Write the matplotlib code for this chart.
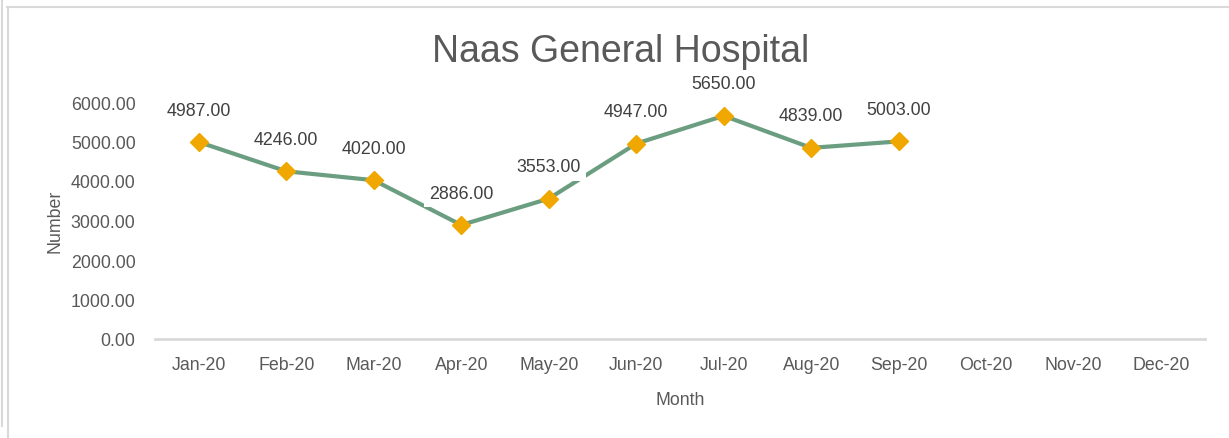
import matplotlib
matplotlib.use("Agg")
import matplotlib.pyplot as plt
from matplotlib.lines import Line2D

months = ["Jan-20", "Feb-20", "Mar-20", "Apr-20", "May-20", "Jun-20",
          "Jul-20", "Aug-20", "Sep-20", "Oct-20", "Nov-20", "Dec-20"]
values = [4987, 4246, 4020, 2886, 3553, 4947, 5650, 4839, 5003]
yticks = [0, 1000, 2000, 3000, 4000, 5000, 6000]

plt.rcParams['font.family'] = ['Liberation Sans', 'DejaVu Sans']

W, H = 1229, 439
fig = plt.figure(figsize=(W / 100, H / 100), dpi=100)
ax = fig.add_axes([155 / W, 1 - 340 / H, (1205 - 155) / W, (340 - 103) / H])

line_c = '#6b9e80'
mark_c = '#f0a800'
tick_c = '#595959'
lab_c = '#404040'
fs = 12.8

x = list(range(len(values)))
ax.plot(x, values, color=line_c, lw=3, marker='D', ms=9,
        mfc=mark_c, mec=mark_c, zorder=3, solid_capstyle='round')
for xi, v in zip(x, values):
    ax.annotate(f"{v:.2f}", (xi, v), xytext=(0, 23), textcoords='offset points',
                ha='center', va='center', fontsize=fs, color=lab_c, zorder=5,
                bbox=dict(boxstyle='square,pad=0.3', fc='white', ec='none'))

ax.set_xlim(-0.5, len(months) - 0.5)
ax.set_ylim(0, 6000)
ax.set_xticks(range(len(months)))
ax.set_xticklabels(months)
ax.set_yticks(yticks)
ax.set_yticklabels([f"{t:.2f}" for t in yticks])
ax.tick_params(axis='both', length=0, labelsize=fs, colors=tick_c)
ax.tick_params(axis='x', pad=12)
ax.tick_params(axis='y', pad=14)
for s in ['top', 'right', 'left']:
    ax.spines[s].set_visible(False)
ax.spines['bottom'].set_color('#d9d9d9')
ax.spines['bottom'].set_linewidth(2)

fig.text(680 / W, 1 - 405 / H, "Month", ha='center', va='baseline',
         fontsize=fs, color=tick_c)
fig.text(55 / W, 1 - 221 / H, "Number", ha='center', va='center',
         rotation=90, fontsize=fs, color=tick_c)
fig.text(621 / W, 1 - 62 / H, "Naas General Hospital", ha='center',
         va='baseline', fontsize=27, color=tick_c)

bc = '#d9d9d9'
fig.add_artist(Line2D([7 / W, 1], [1 - 7.5 / H, 1 - 7.5 / H], color=bc, lw=1.5,
                      transform=fig.transFigure))
fig.add_artist(Line2D([7.5 / W, 7.5 / W], [0, 1 - 7.5 / H], color=bc, lw=1.5,
                      transform=fig.transFigure))
fig.add_artist(Line2D([1.5 / W, 1.5 / W], [1 - 427 / H, 1], color=bc, lw=1.5,
                      transform=fig.transFigure))

fig.savefig("out.png", dpi=100, facecolor='white')
